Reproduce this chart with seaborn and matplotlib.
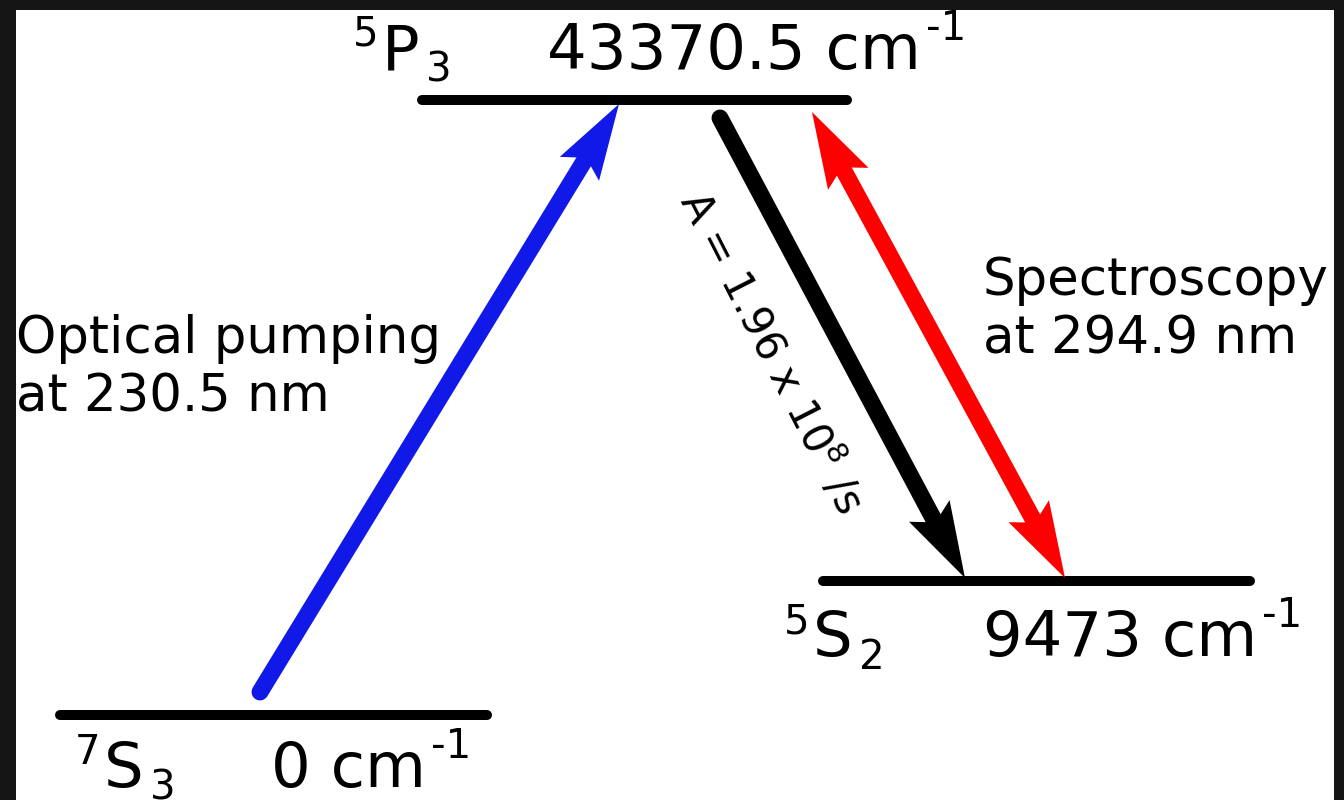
import numpy as np
import pandas as pd
import matplotlib
matplotlib.use("Agg")
import matplotlib.pyplot as plt
from matplotlib.patches import Rectangle, Polygon
import seaborn as sns

# === Level scheme data (pixel units of the 1344x800 canvas) ===
term_sup = ["7", "5", "5"]
term_letter = ["S", "P", "S"]
term_sub = ["3", "3", "2"]
energies = ["0", "43370.5", "9473"]
level_x0 = [60, 422, 823]
level_x1 = [487, 847, 1250]
level_y = [715, 100, 581]

# transitions: (start, end)
pump_line = [(260, 692), (619, 104)]
decay_line = [(720, 118), (965, 578)]
probe_line = [(812, 112), (1065, 578)]

pump_text = "Optical pumping\nat 230.5 nm"
probe_text = "Spectroscopy\nat 294.9 nm"
decay_text = "A = 1.96 x 10$^{8}$ /s"

BLUE = "#1019e8"
RED = "#ff0000"

sns.set_theme(style="white")
plt.rcParams["font.family"] = ["DejaVu Sans"]
plt.rcParams["text.color"] = "black"

fig = plt.figure(figsize=(13.44, 8), dpi=100)
fig.patch.set_facecolor("#151515")
ax = fig.add_axes([0, 0, 1, 1])
ax.set_xlim(0, 1344)
ax.set_ylim(800, 0)
ax.axis("off")
ax.add_patch(Rectangle((16, 10), 1318, 800, facecolor="white", edgecolor="none", zorder=0))

# --- energy levels ---
for x0, x1, y in zip(level_x0, level_x1, level_y):
    sns.lineplot(x=[x0, x1], y=[y, y], ax=ax, color="black", linewidth=7.2,
                 sort=False, solid_capstyle="round", zorder=3)

# --- level labels: ^sup Letter _sub   energy cm^-1 ---
BIG, SMALL = 45, 29
label_pos = [  # sup x, letter baseline, energy x
    (75, 787, 271),
    (353, 69, 547),
    (784, 656, 983),
]
for i, (sx, base, ex) in enumerate(label_pos):
    sup = ax.text(sx, base - 23, term_sup[i], fontsize=SMALL, ha="left", va="baseline")
    let = ax.annotate(term_letter[i], xy=(1, base), xycoords=(sup, "data"),
                      xytext=(3, 0), textcoords="offset pixels",
                      fontsize=BIG, ha="left", va="baseline")
    ax.annotate(term_sub[i], xy=(1, base), xycoords=(let, "data"),
                xytext=(7, -13), textcoords="offset pixels",
                fontsize=SMALL, ha="left", va="baseline")
    en = ax.text(ex, base, f"{energies[i]} cm", fontsize=BIG, ha="left", va="baseline")
    ax.annotate("-1", xy=(1, base), xycoords=(en, "data"),
                xytext=(5, 29), textcoords="offset pixels",
                fontsize=SMALL, ha="left", va="baseline")


def arrow(p0, p1, color, both=False, L=76, W=23, N=63, lw=12.2):
    p0 = np.array(p0, float)
    p1 = np.array(p1, float)
    u = (p1 - p0) / np.linalg.norm(p1 - p0)
    a, b = p0.copy(), p1 - u * (N + 2)
    tips = [(p1, u)]
    if both:
        a = p0 + u * (N + 2)
        tips.append((p0, -u))
    sns.lineplot(x=[a[0], b[0]], y=[a[1], b[1]], ax=ax, color=color, linewidth=lw,
                 sort=False, solid_capstyle="round", zorder=4)
    for tip, d in tips:
        nn = np.array([-d[1], d[0]])
        pts = [tip, tip - d * L + nn * W, tip - d * N, tip - d * L - nn * W]
        ax.add_patch(Polygon(pts, closed=True, facecolor=color, edgecolor="none", zorder=5))


arrow(*pump_line, BLUE)
arrow(*decay_line, "black")
arrow(*probe_line, RED, both=True)

# --- annotations (anchored at the baseline of the last line) ---
ax.text(16, 412, pump_text, fontsize=37, ha="left", va="baseline", linespacing=1.23)
ax.text(983, 354, probe_text, fontsize=37, ha="left", va="baseline", linespacing=1.23)
ax.text(772, 352, decay_text, fontsize=30, ha="center", va="center",
        rotation=-63, rotation_mode="anchor")

fig.savefig("out.png", dpi=100, facecolor=fig.get_facecolor())
plt.close(fig)
